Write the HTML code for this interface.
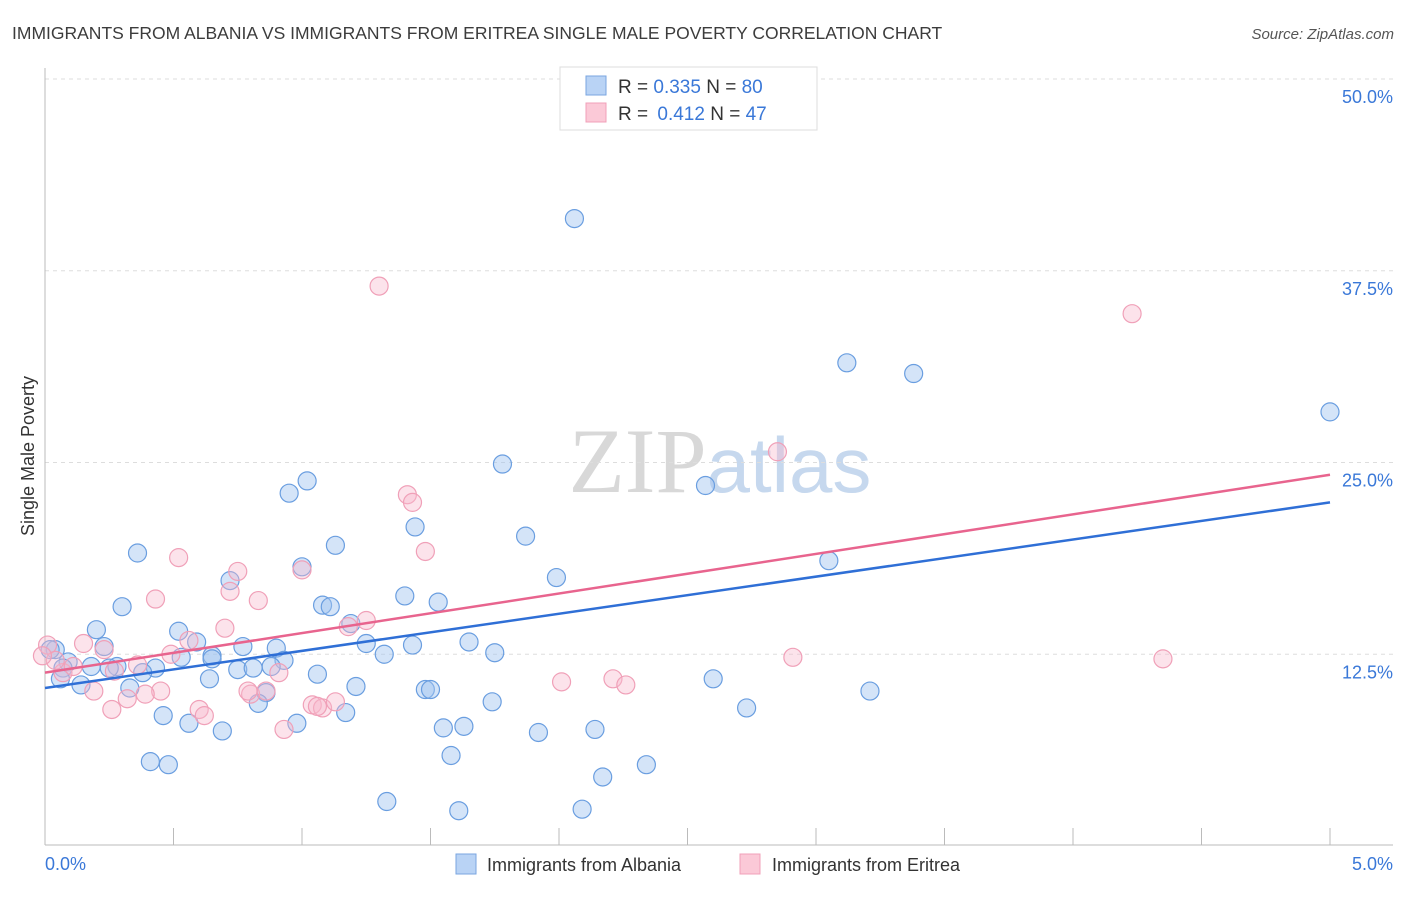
<!DOCTYPE html>
<html><head><meta charset="utf-8"><style>
body{margin:0;background:#fff;font-family:"Liberation Sans",sans-serif}
</style></head><body>
<svg id="c" width="1406" height="892" xmlns="http://www.w3.org/2000/svg">
<text x="12" y="39" font-size="17.5" fill="#3c3c3c">IMMIGRANTS FROM ALBANIA VS IMMIGRANTS FROM ERITREA SINGLE MALE POVERTY CORRELATION CHART</text>
<text x="1394" y="39" font-size="15" fill="#555" text-anchor="end" font-style="italic">Source: ZipAtlas.com</text>
<text x="720" y="492" font-size="92" fill="#d8d8d8" text-anchor="middle" font-family="Liberation Serif,serif">ZIP<tspan fill="#c6d8ee" font-family="Liberation Sans,sans-serif" font-size="78">atlas</tspan></text>
<text transform="translate(34,456) rotate(-90)" font-size="18" fill="#333" text-anchor="middle">Single Male Poverty</text>
<g id="grid"></g><g id="pts"></g><g id="lines"></g>
<g>
<rect x="560" y="67" width="257" height="63" fill="#fff" stroke="#ddd"/>
<rect x="586" y="76" width="20" height="19" fill="#b9d3f5" stroke="#7aa6e0"/>
<rect x="586" y="103" width="20" height="19" fill="#fbc9d7" stroke="#f0a0b8"/>
<text x="618" y="93" font-size="19" fill="#333">R = <tspan fill="#3a78d8">0.335</tspan>   N = <tspan fill="#3a78d8">80</tspan></text>
<text x="618" y="120" font-size="19" fill="#333">R = <tspan fill="#3a78d8" dx="4">0.412</tspan>   N = <tspan fill="#3a78d8">47</tspan></text>
</g>
<g>
<rect x="456" y="854" width="20" height="20" fill="#b9d3f5" stroke="#7aa6e0"/>
<text x="487" y="871" font-size="18" fill="#333">Immigrants from Albania</text>
<rect x="740" y="854" width="20" height="20" fill="#fbc9d7" stroke="#f0a0b8"/>
<text x="772" y="871" font-size="18" fill="#333">Immigrants from Eritrea</text>
</g>
</svg>
<script>
const yTicks=[12.5,25,37.5,50];
const yTickLabels=["12.5%","25.0%","37.5%","50.0%"];
const xTickLabels=["0.0%","5.0%"];
const albaniaX=[2.06,3.12,3.38,5.0,1.78,1.02,0.95,2.57,1.44,1.87,0.36,1.13,1.99,3.05,0.72,1.00,1.40,0.30,1.08,1.11,1.53,1.19,0.20,0.52,0.59,1.65,1.25,1.43,0.23,0.77,0.90,0.04,1.75,1.32,0.65,0.53,0.65,0.93,0.09,0.18,0.28,0.43,0.75,0.81,0.88,1.06,0.07,0.06,0.38,0.64,0.14,2.6,0.33,1.21,1.48,1.50,3.21,0.86,1.74,0.83,0.46,1.17,0.56,0.98,2.73,0.69,1.55,1.63,1.92,2.14,1.58,0.41,0.48,2.34,2.17,1.33,1.61,2.09,0.02,0.25];
const albaniaY=[40.9,31.5,30.8,28.3,24.9,23.8,23.0,23.5,20.8,20.2,19.1,19.6,17.5,18.6,17.3,18.2,16.3,15.6,15.7,15.6,15.9,14.5,14.1,14.0,13.3,13.3,13.2,13.1,13.0,13.0,12.9,12.8,12.6,12.5,12.4,12.3,12.2,12.1,12.0,11.7,11.7,11.6,11.5,11.6,11.7,11.2,11.6,10.9,11.3,10.9,10.5,10.9,10.3,10.4,10.2,10.2,10.1,10.0,9.4,9.3,8.5,8.7,8.0,8.0,9.0,7.5,7.7,7.8,7.4,7.6,5.9,5.5,5.3,5.3,4.5,2.9,2.3,2.4,12.8,11.6];
const eritreaX=[1.30,4.23,2.85,1.41,1.43,1.48,0.52,0.75,1.00,0.43,0.72,0.83,1.25,1.18,0.70,0.56,0.15,0.23,0.49,0.36,0.27,0.01,0.07,0.11,4.35,2.91,0.91,2.21,2.26,2.01,0.19,0.45,0.39,0.80,0.86,0.32,0.26,0.60,0.62,1.04,1.08,1.06,1.13,0.93,0.79,0.04,-0.01];
const eritreaY=[36.5,34.7,25.7,22.9,22.4,19.2,18.8,17.9,18.0,16.1,16.6,16.0,14.7,14.3,14.2,13.4,13.2,12.8,12.5,11.8,11.4,13.1,11.3,11.7,12.2,12.3,11.3,10.9,10.5,10.7,10.1,10.1,9.9,9.9,10.1,9.6,8.9,8.9,8.5,9.2,9.0,9.1,9.4,7.6,10.1,12.1,12.4];
const albaniaTrend=[10.3,22.4];
const eritreaTrend=[11.3,24.2];
const NS="http://www.w3.org/2000/svg";
const X=v=>45+v/5*1285, Y=v=>846-v/50*767;
function mk(t,a,p){const e=document.createElementNS(NS,t);for(const k in a)e.setAttribute(k,a[k]);p.appendChild(e);return e;}
const grid=document.getElementById('grid');
yTicks.forEach((t,i)=>{
 const l=mk('line',{x1:45,x2:1393,y1:Y(t),y2:Y(t),stroke:'#ddd','stroke-dasharray':'4,4'},grid);
 
 
 const tx=mk('text',{x:1393,y:Y(t)+24,'font-size':18,fill:'#3a78d8','text-anchor':'end'},grid);
 tx.textContent=yTickLabels[i];
 
 
});
mk('line',{x1:45,x2:45,y1:68,y2:845,stroke:'#bbb'},grid);
mk('line',{x1:45,x2:1393,y1:845,y2:845,stroke:'#bbb'},grid);
for(let i=0;i<=10;i++){const l=mk('line',{x1:X(i*0.5),x2:X(i*0.5),y1:828,y2:845,stroke:'#bbb'},grid);
 
 }
[[0,'start',45],[5,'end',1393]].forEach((d,i)=>{const t=mk('text',{x:d[2],y:870,'font-size':18,fill:'#3a78d8','text-anchor':d[1]},grid);t.textContent=xTickLabels[i];
 
 });
const pts=document.getElementById('pts');
function series(xs,ys,fill,stroke,name){xs.forEach((x,i)=>{const c=mk('circle',{cx:X(x),cy:Y(ys[i]),r:9,fill:fill,stroke:stroke,'stroke-width':1.2},pts);
 
 });}
series(albaniaX,albaniaY,'rgba(160,196,240,0.45)','#6a9ee0','albania-point');
series(eritreaX,eritreaY,'rgba(248,185,205,0.4)','#f0a0b8','eritrea-point');
const ln=document.getElementById('lines');
const a=mk('line',{x1:X(0),x2:X(5),y1:Y(albaniaTrend[0]),y2:Y(albaniaTrend[1]),stroke:'#2f6fd6','stroke-width':2.5},ln);


const e=mk('line',{x1:X(0),x2:X(5),y1:Y(eritreaTrend[0]),y2:Y(eritreaTrend[1]),stroke:'#e8648e','stroke-width':2.5},ln);


</script>
</body></html>
